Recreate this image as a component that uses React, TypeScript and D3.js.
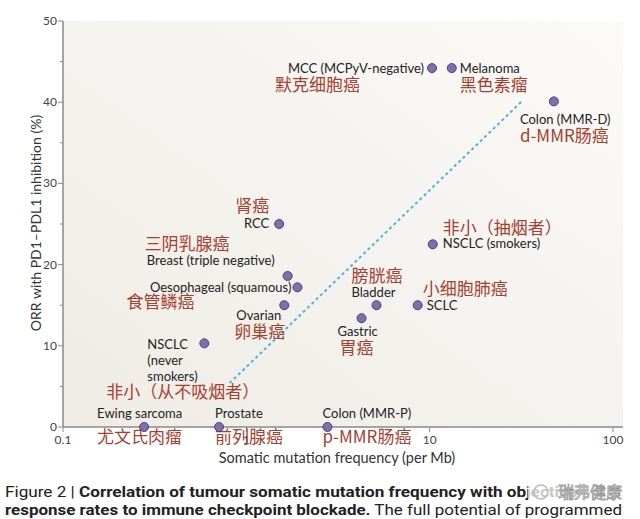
import { useEffect, useRef } from "react";
import * as d3 from "d3";

// tumour types: mutation frequency (per Mb) vs ORR (%)
const names = [
  "MCC", "Melanoma", "ColonD", "RCC", "Breast", "Oesophageal", "Ovarian",
  "NSCLCnever", "Ewing", "Prostate", "ColonP", "NSCLCsmokers", "Bladder", "Gastric", "SCLC",
];
const mutationFreq = [10.3, 13.2, 47.6, 1.51, 1.68, 1.9, 1.61, 0.59, 0.277, 0.71, 2.77, 10.4, 5.13, 4.25, 8.6];
const orr = [44.2, 44.2, 40.1, 25.0, 18.6, 17.2, 15.0, 10.3, 0, 0, 0, 22.5, 15.0, 13.4, 15.0];

const englishLabels = [
  ["MCC (MCPyV-negative)"], ["Melanoma"], ["Colon (MMR-D)"], ["RCC"], ["Breast (triple negative)"],
  ["Oesophageal (squamous)"], ["Ovarian"], ["NSCLC", "(never", "smokers)"], ["Ewing sarcoma"],
  ["Prostate"], ["Colon (MMR-P)"], ["NSCLC (smokers)"], ["Bladder"], ["Gastric"], ["SCLC"],
];
const chineseLabels = [
  "默克细胞癌", "黑色素瘤", "d-MMR肠癌", "肾癌", "三阴乳腺癌", "食管鳞癌", "卵巢癌",
  "非小（从不吸烟者）", "尤文氏肉瘤", "前列腺癌", "p-MMR肠癌", "非小（抽烟者）", "膀胱癌", "胃癌", "小细胞肺癌",
];

// trend line end points
const trendX = [0.81, 31.8];
const trendY = [5.4, 40.1];

const xTicks = [0.1, 1, 10, 100];
const xTickLabels = ["0.1", "1", "10", "100"];
const yTicks = [0, 10, 20, 30, 40, 50];
const yMinorTicks = [5, 15, 25, 35, 45];

// label placement relative to the point (px)
const layout: Record<string, { en: [number, number]; zh: [number, number]; anchor: string; zhAnchor?: string }> = {
  MCC: { en: [-8, 5], zh: [-157, 23], anchor: "end", zhAnchor: "start" },
  Melanoma: { en: [8, 5], zh: [8, 23], anchor: "start" },
  ColonD: { en: [-34, 23], zh: [-34, 41], anchor: "start" },
  RCC: { en: [-10, 4], zh: [-10, -12], anchor: "end" },
  Breast: { en: [-13, -11], zh: [-143, -26], anchor: "end", zhAnchor: "start" },
  Oesophageal: { en: [-6, 5], zh: [-171, 21], anchor: "end", zhAnchor: "start" },
  Ovarian: { en: [-48, 15], zh: [-50, 33], anchor: "start" },
  NSCLCnever: { en: [-57, 6], zh: [-98, 55], anchor: "start" },
  Ewing: { en: [-47, -9], zh: [-47, 16], anchor: "start" },
  Prostate: { en: [-4, -9], zh: [-4, 16], anchor: "start" },
  ColonP: { en: [-5, -9], zh: [-5, 16], anchor: "start" },
  NSCLCsmokers: { en: [10, 4], zh: [10, -10], anchor: "start" },
  Bladder: { en: [-25, -8], zh: [-25, -23], anchor: "start" },
  Gastric: { en: [-24, 18], zh: [-22, 36], anchor: "start" },
  SCLC: { en: [9, 5], zh: [5, -10], anchor: "start" },
};

const W = 640;
const H = 519;

export default function App() {
  const svgRef = useRef<SVGSVGElement>(null);

  useEffect(() => {
    if (!svgRef.current) return;
    const svg = d3.select(svgRef.current);
    svg.selectAll("*").remove();

    const x = d3.scaleLog().domain([0.1, 100]).range([63, 613]);
    const y = d3.scaleLinear().domain([0, 50]).range([427, 21]);
    const latin = "Lato, 'Open Sans', sans-serif";
    const cjk = "'Noto Sans CJK SC', sans-serif";
    const red = "#a5402f";

    svg.append("rect").attr("width", W).attr("height", H).attr("fill", "#fff");

    const grad = svg.append("defs").append("linearGradient").attr("id", "bg")
      .attr("x1", "0").attr("y1", "1").attr("x2", "1").attr("y2", "0");
    grad.append("stop").attr("offset", "0").attr("stop-color", "#efece6");
    grad.append("stop").attr("offset", "1").attr("stop-color", "#fbfaf8");

    svg.append("rect").attr("x", 63).attr("y", 21).attr("width", 560).attr("height", 406).attr("fill", "url(#bg)");

    // trend line
    svg.append("line")
      .attr("x1", x(trendX[0])).attr("y1", y(trendY[0]))
      .attr("x2", x(trendX[1])).attr("y2", y(trendY[1]))
      .attr("stroke", "#4fb3d9").attr("stroke-width", 2).attr("stroke-dasharray", "3,3");

    // axes
    const axisColor = "#8a8a8a";
    svg.append("line").attr("x1", 63).attr("x2", 63).attr("y1", 21).attr("y2", 427)
      .attr("stroke", axisColor).attr("stroke-width", 1.5);
    svg.append("line").attr("x1", 63).attr("x2", 623).attr("y1", 427).attr("y2", 427)
      .attr("stroke", axisColor).attr("stroke-width", 1.5);

    yTicks.forEach((t) => {
      svg.append("line").attr("x1", 58).attr("x2", 63).attr("y1", y(t)).attr("y2", y(t))
        .attr("stroke", axisColor);
      svg.append("text").attr("x", 57).attr("y", y(t) + 4).attr("text-anchor", "end")
        .attr("font-family", latin).attr("font-size", 12).attr("fill", "#444").text(t);
    });
    yMinorTicks.forEach((t) => {
      svg.append("line").attr("x1", 60).attr("x2", 63).attr("y1", y(t)).attr("y2", y(t))
        .attr("stroke", axisColor);
    });
    xTicks.forEach((t, i) => {
      svg.append("line").attr("x1", x(t)).attr("x2", x(t)).attr("y1", 427).attr("y2", 432)
        .attr("stroke", axisColor);
      svg.append("text").attr("x", x(t)).attr("y", 444).attr("text-anchor", "middle")
        .attr("font-family", latin).attr("font-size", 12).attr("fill", "#444").text(xTickLabels[i]);
    });

    svg.append("text").attr("transform", "translate(41,223) rotate(-90)").attr("text-anchor", "middle")
      .attr("font-family", latin).attr("font-size", 14).attr("fill", "#333")
      .text("ORR with PD1–PDL1 inhibition (%)");
    svg.append("text").attr("x", 337).attr("y", 463).attr("text-anchor", "middle")
      .attr("font-family", latin).attr("font-size", 14.5).attr("fill", "#333")
      .text("Somatic mutation frequency (per Mb)");

    // points and labels
    names.forEach((n, i) => {
      const px = x(mutationFreq[i]);
      const py = y(orr[i]);
      const l = layout[n];
      const en = svg.append("text").attr("x", px + l.en[0]).attr("y", py + l.en[1])
        .attr("text-anchor", l.anchor).attr("font-family", latin).attr("font-size", 13).attr("fill", "#222");
      englishLabels[i].forEach((line, k) => {
        en.append("tspan").attr("x", px + l.en[0]).attr("dy", k === 0 ? 0 : 16).text(line);
      });
      svg.append("text").attr("x", px + l.zh[0]).attr("y", py + l.zh[1])
        .attr("text-anchor", l.zhAnchor ?? l.anchor).attr("font-family", cjk).attr("font-size", 17)
        .attr("fill", red).text(chineseLabels[i]);
    });

    svg.append("g").selectAll("circle").data(names).join("circle")
      .attr("cx", (_, i) => x(mutationFreq[i]))
      .attr("cy", (_, i) => y(orr[i]))
      .attr("r", 4.5)
      .attr("fill", "#7d70ad")
      .attr("stroke", "#4b4176")
      .attr("stroke-width", 1);

    // caption
    const cap = "'Liberation Sans Narrow', 'Roboto', sans-serif";
    const c1 = svg.append("text").attr("x", 5).attr("y", 497).attr("font-family", cap)
      .attr("font-size", 15).attr("fill", "#222").attr("textLength", 572).attr("lengthAdjust", "spacingAndGlyphs");
    c1.append("tspan").text("Figure 2 | ");
    c1.append("tspan").attr("font-weight", "bold").text("Correlation of tumour somatic mutation frequency with objective");
    const c2 = svg.append("text").attr("x", 5).attr("y", 515).attr("font-family", cap)
      .attr("font-size", 15).attr("fill", "#222").attr("textLength", 617).attr("lengthAdjust", "spacingAndGlyphs");
    c2.append("tspan").attr("font-weight", "bold").text("response rates to immune checkpoint blockade.");
    c2.append("tspan").text(" The full potential of programmed");

    // watermark
    svg.append("rect").attr("x", 528).attr("y", 482).attr("width", 112).attr("height", 20)
      .attr("fill", "#fff").attr("opacity", 0.75);
    svg.append("circle").attr("cx", 541).attr("cy", 492).attr("r", 7)
      .attr("fill", "none").attr("stroke", "#bbb").attr("stroke-width", 1.5);
    svg.append("text").attr("x", 558).attr("y", 498).attr("font-family", cjk).attr("font-size", 16)
      .attr("fill", "#fff").attr("stroke", "#999").attr("stroke-width", 0.8).text("瑞弗健康");
  }, []);

  return (
    <div style={{ position: "absolute", left: 0, top: 0 }}>
      <svg ref={svgRef} width={W} height={H} style={{ display: "block" }} />
    </div>
  );
}
